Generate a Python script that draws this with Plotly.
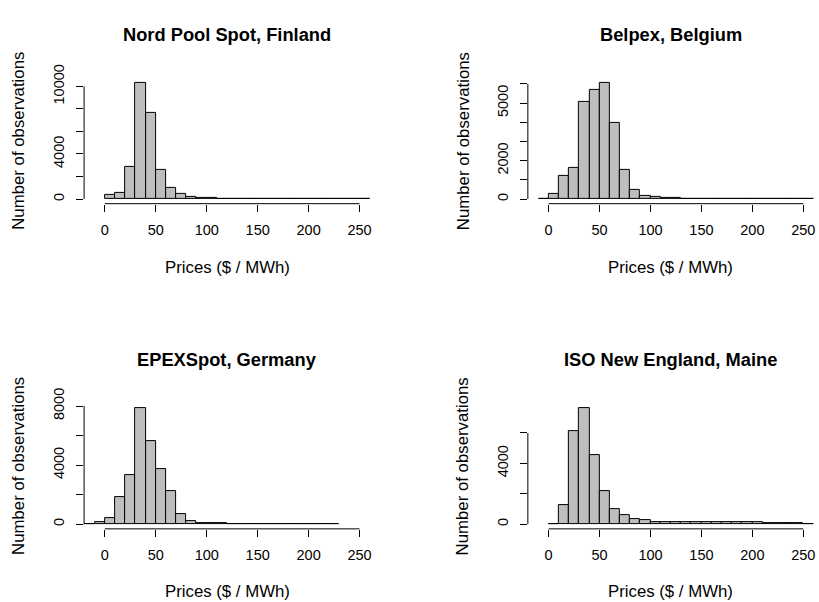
import plotly.graph_objects as go

# ---------------- data (bin left edges, bin width 10 $/MWh) ----------------
bin_width = 10

fin_left = [0, 10, 20, 30, 40, 50, 60, 70, 80, 90, 100, 110, 120, 130, 140, 150,
            160, 170, 180, 190, 200, 210, 220, 230, 240, 250]
fin_counts = [376, 549, 2890, 10346, 7659, 2630, 983, 434, 231, 116, 80, 40, 30, 25,
              20, 15, 12, 10, 10, 8, 7, 6, 6, 5, 4, 4]

bel_left = [-10, 0, 10, 20, 30, 40, 50, 60, 70, 80, 90, 100, 110, 120, 130, 140, 150,
            160, 170, 180, 190, 200, 210, 220, 230, 240, 250]
bel_counts = [25, 254, 1203, 1627, 5051, 5661, 6068, 3983, 1525, 465, 180, 119, 68, 34,
              25, 20, 15, 12, 10, 8, 8, 6, 5, 5, 4, 4, 3]

ger_left = [-20, -10, 0, 10, 20, 30, 40, 50, 60, 70, 80, 90, 100, 110, 120, 130, 140,
            150, 160, 170, 180, 190, 200, 210, 220]
ger_counts = [20, 115, 418, 1828, 3305, 7886, 5596, 3745, 2225, 661, 190, 110, 66, 45,
              35, 25, 20, 15, 12, 10, 8, 8, 6, 5, 4]

mai_left = [0, 10, 20, 30, 40, 50, 60, 70, 80, 90, 100, 110, 120, 130, 140, 150, 160,
            170, 180, 190, 200, 210, 220, 230, 240, 250]
mai_counts = [10, 1284, 6099, 7661, 4515, 2161, 1006, 599, 360, 250, 171, 171, 150, 128,
              150, 171, 150, 150, 171, 171, 150, 107, 86, 64, 43, 20]

titles = ["Nord Pool Spot, Finland", "Belpex, Belgium", "EPEXSpot, Germany",
          "ISO New England, Maine"]

x_ticks = [0, 50, 100, 150, 200, 250]
y_ticks = [
    [0, 2000, 4000, 6000, 8000, 10000],
    [0, 1000, 2000, 3000, 4000, 5000, 6000],
    [0, 2000, 4000, 6000, 8000],
    [0, 2000, 4000, 6000],
]
y_ticklabels = [
    ["0", "", "4000", "", "", "10000"],
    ["0", "", "2000", "", "", "5000", ""],
    ["0", "", "4000", "", "8000"],
    ["0", "", "4000", ""],
]
x_label = "Prices ($ / MWh)"
y_label = "Number of observations"

# ---------------- layout geometry (pixels) ----------------
W, H = 819, 602
x_doms_px = [(84.2, 370.6), (528.5, 814.9), (84.2, 370.6), (528.5, 814.9)]
y_doms_px = [(64.5, 193.5), (64.5, 193.5), (398.0, 527.0), (398.0, 527.0)]
x_range = [-20.4, 260.4]

FONT = "Liberation Sans, Arial, Helvetica, sans-serif"

fig = go.Figure()
series = [(fin_left, fin_counts), (bel_left, bel_counts), (ger_left, ger_counts),
          (mai_left, mai_counts)]

layout = dict(
    width=W, height=H, autosize=False,
    margin=dict(l=0, r=0, t=0, b=0, pad=0),
    paper_bgcolor="white", plot_bgcolor="white",
    showlegend=False, bargap=0,
    font=dict(family=FONT, color="black"),
)

shapes = []
annotations = []

for i, (left, counts) in enumerate(series):
    k = "" if i == 0 else str(i + 1)
    xa, ya = "x" + k, "y" + k
    fig.add_trace(go.Bar(
        x=left, y=counts, width=bin_width, offset=0,
        marker=dict(color="#BEBEBE", line=dict(color="black", width=1)),
        xaxis=xa, yaxis=ya, hoverinfo="skip",
    ))
    cmax = max(counts)
    xd = [x_doms_px[i][0] / W, x_doms_px[i][1] / W]
    yd = [(H - y_doms_px[i][1]) / H, (H - y_doms_px[i][0]) / H]
    layout["xaxis" + k] = dict(
        domain=xd, range=x_range, anchor=ya,
        showgrid=False, zeroline=False, showline=False,
        tickmode="array", tickvals=x_ticks, ticktext=[str(v) for v in x_ticks],
        ticks="outside", ticklen=7, tickwidth=1, tickcolor="black",
        tickfont=dict(size=14.5, family=FONT, color="black"),
        ticklabelstandoff=6,
    )
    layout["yaxis" + k] = dict(
        domain=yd, range=[-0.04 * cmax, 1.04 * cmax], anchor=xa,
        showgrid=False, zeroline=False, showline=False,
        tickmode="array", tickvals=y_ticks[i], ticktext=y_ticklabels[i],
        ticks="outside", ticklen=7, tickwidth=1, tickcolor="black",
        tickangle=-90,
        tickfont=dict(size=14.5, family=FONT, color="black"),
        ticklabelstandoff=6,
    )
    # R-style axis lines spanning only the tick range
    shapes.append(dict(type="line", xref=xa, yref=ya + " domain",
                       x0=x_ticks[0], x1=x_ticks[-1], y0=0, y1=0,
                       line=dict(color="black", width=1)))
    shapes.append(dict(type="line", xref=xa + " domain", yref=ya,
                       x0=0, x1=0, y0=y_ticks[i][0], y1=y_ticks[i][-1],
                       line=dict(color="black", width=1)))
    cx = (x_doms_px[i][0] + x_doms_px[i][1]) / 2 / W
    cy = (y_doms_px[i][0] + y_doms_px[i][1]) / 2
    top_row = i < 2
    title_y = 20 if top_row else 353
    xlab_y = 259 if top_row else 591
    ylab_x = 19 if i % 2 == 0 else 464
    annotations.append(dict(text="<b>" + titles[i] + "</b>", xref="paper", yref="paper",
                            x=cx, y=(H - title_y) / H, xanchor="center", yanchor="middle",
                            showarrow=False, font=dict(size=18.3, family=FONT, color="black")))
    annotations.append(dict(text=x_label, xref="paper", yref="paper",
                            x=cx, y=(H - xlab_y) / H, xanchor="center", yanchor="middle",
                            showarrow=False, font=dict(size=16.8, family=FONT, color="black")))
    annotations.append(dict(text=y_label, xref="paper", yref="paper", textangle=-90,
                            x=ylab_x / W, y=(H - cy) / H, xanchor="center", yanchor="middle",
                            showarrow=False, font=dict(size=16.8, family=FONT, color="black")))

layout["shapes"] = shapes
layout["annotations"] = annotations
fig.update_layout(**layout)
fig.write_html("out.html")
